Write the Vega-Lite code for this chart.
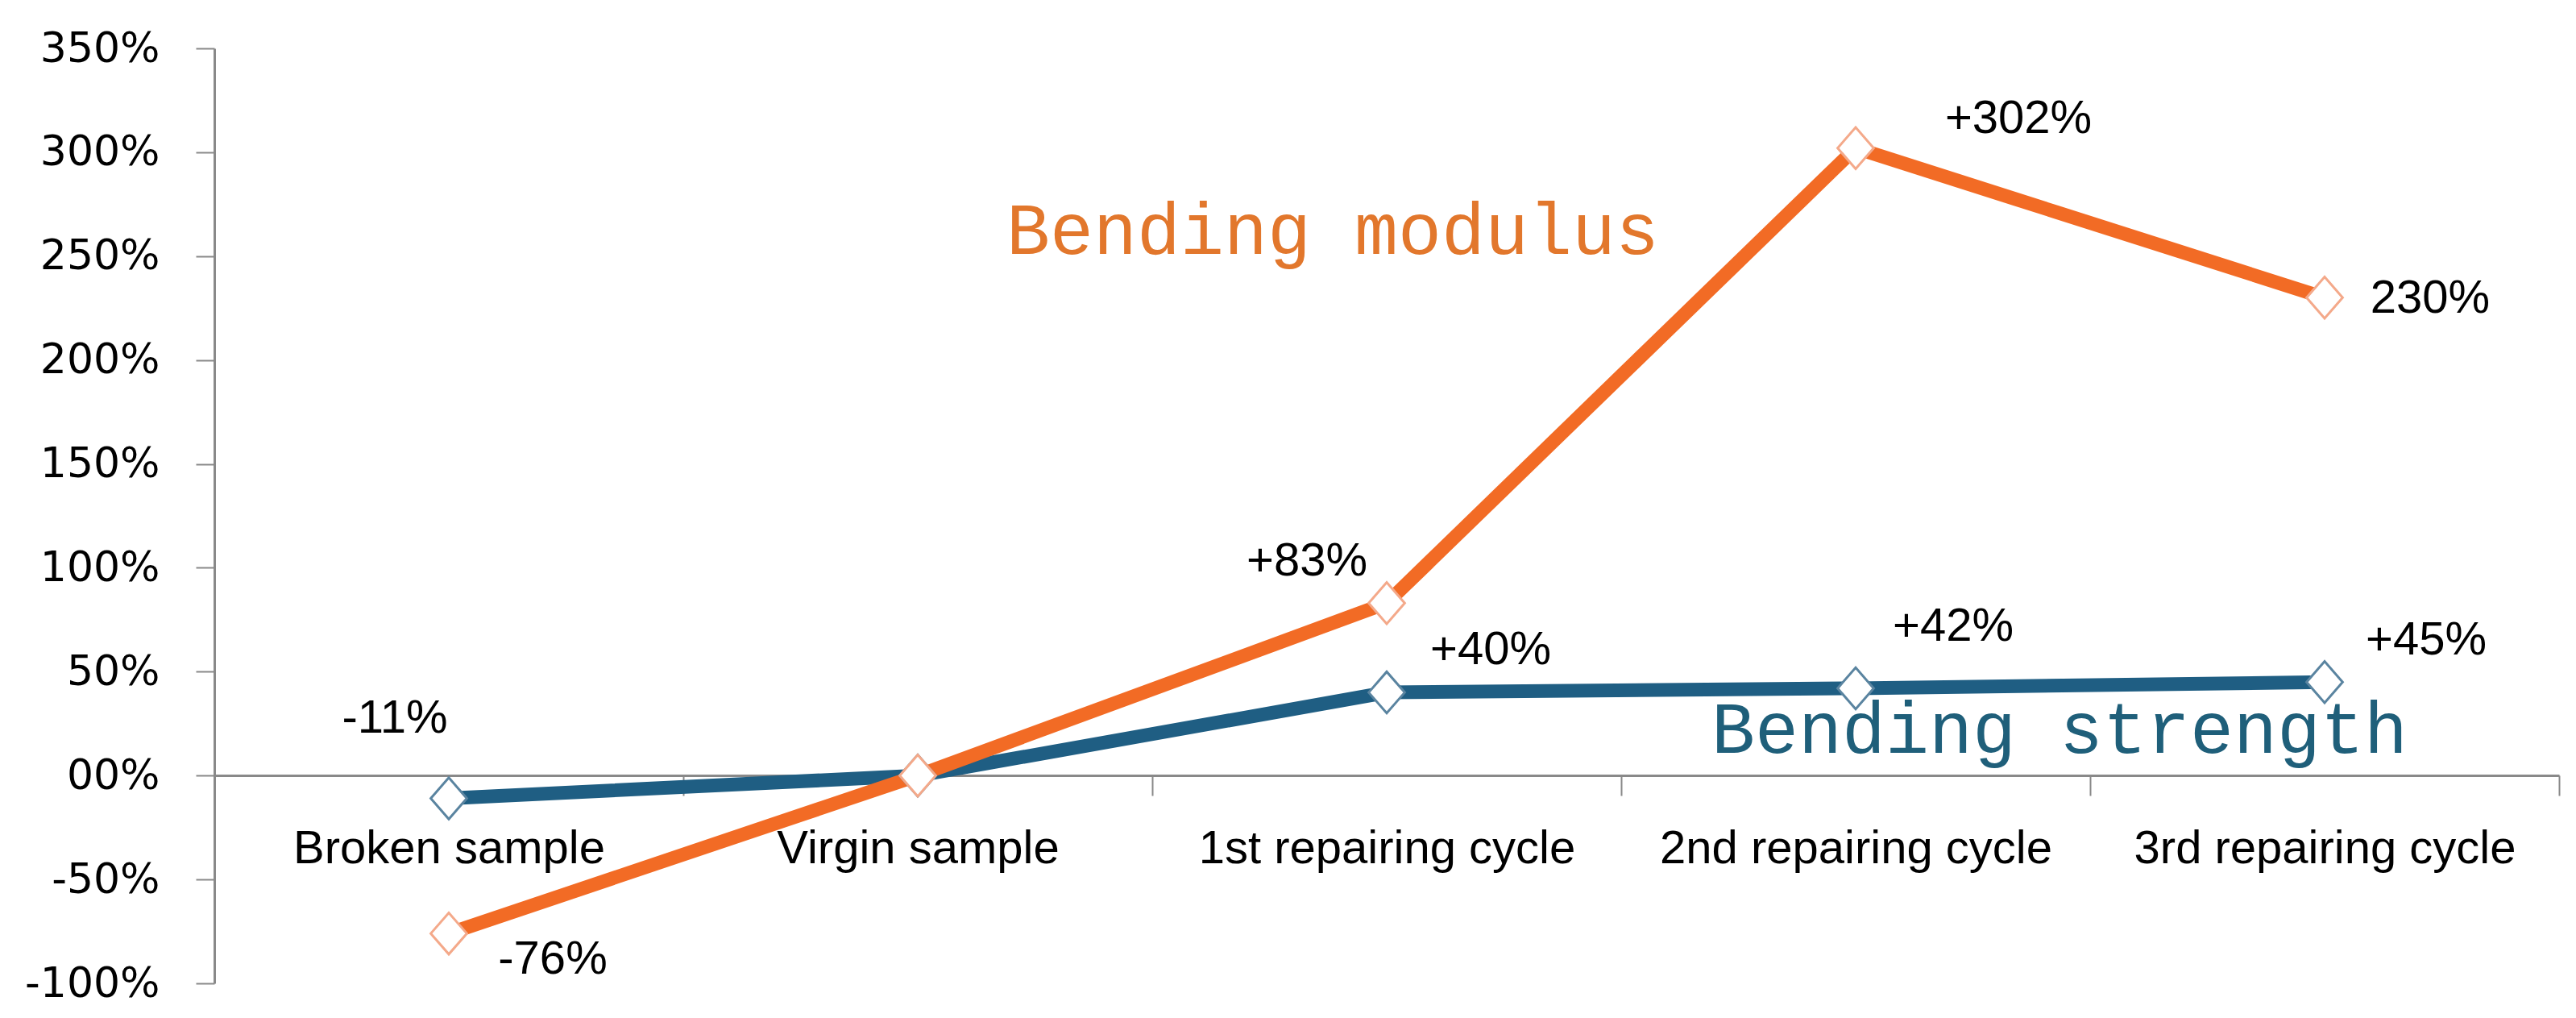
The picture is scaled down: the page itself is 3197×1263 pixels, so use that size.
{
  "$schema": "https://vega.github.io/schema/vega-lite/v6.json",
  "width": 2910,
  "height": 1160,
  "autosize": {"type": "none"},
  "padding": {"left": 266, "top": 60, "right": 21, "bottom": 43},
  "background": "white",
  "config": {"view": {"stroke": null}},
  "datasets": {
    "main": [
      {"cat": "Broken sample", "series": "strength", "value": -11, "label": "-11%"},
      {"cat": "Virgin sample", "series": "strength", "value": 0, "label": ""},
      {"cat": "1st repairing cycle", "series": "strength", "value": 40, "label": "+40%"},
      {"cat": "2nd repairing cycle", "series": "strength", "value": 42, "label": "+42%"},
      {"cat": "3rd repairing cycle", "series": "strength", "value": 45, "label": "+45%"},
      {"cat": "Broken sample", "series": "modulus", "value": -76, "label": "-76%"},
      {"cat": "Virgin sample", "series": "modulus", "value": 0, "label": ""},
      {"cat": "1st repairing cycle", "series": "modulus", "value": 83, "label": "+83%"},
      {"cat": "2nd repairing cycle", "series": "modulus", "value": 302, "label": "+302%"},
      {"cat": "3rd repairing cycle", "series": "modulus", "value": 230, "label": "230%"}
    ],
    "notes": [
      {"cat": "1st repairing cycle", "value": 251, "text": "Bending modulus", "series": "modulus"},
      {"cat": "2nd repairing cycle", "value": 11, "text": "Bending strength", "series": "strength"}
    ]
  },
  "encoding": {
    "x": {
      "field": "cat", "type": "nominal", "sort": null,
      "scale": {"type": "band", "paddingInner": 0, "paddingOuter": 0,
        "domain": ["Broken sample", "Virgin sample", "1st repairing cycle", "2nd repairing cycle", "3rd repairing cycle"]},
      "axis": {
        "title": null, "offset": -258, "labelAngle": 0, "tickBand": "extent", "labelLimit": 0,
        "domainColor": "#898989", "domainWidth": 3, "tickColor": "#898989", "tickWidth": 2, "tickSize": 25,
        "labelFont": "Liberation Sans", "labelFontSize": 58, "labelColor": "#000000", "labelPadding": 37,
        "zindex": 0
      }
    },
    "y": {
      "field": "value", "type": "quantitative",
      "scale": {"domain": [-100, 350], "nice": false, "zero": false},
      "axis": {
        "title": null, "values": [-100, -50, 0, 50, 100, 150, 200, 250, 300, 350],
        "labelExpr": "datum.value === 0 ? '00%' : datum.value + '%'",
        "grid": false, "domainColor": "#898989", "domainWidth": 3, "tickColor": "#898989", "tickWidth": 2, "tickSize": 23,
        "labelFont": "DejaVu Sans", "labelFontSize": 52, "labelColor": "#000000", "labelPadding": 45,
        "zindex": 0
      }
    }
  },
  "layer": [
    {"data": {"name": "main"}, "transform": [{"filter": "datum.series === 'strength'"}],
     "mark": {"type": "line", "color": "#1F5E83", "strokeWidth": 17}},
    {"data": {"name": "main"}, "transform": [{"filter": "datum.series === 'modulus'"}],
     "mark": {"type": "line", "color": "#F26B25", "strokeWidth": 17}},
    {"data": {"name": "main"}, "transform": [{"filter": "datum.series === 'strength'"}],
     "mark": {"type": "point", "shape": "M-1,0L0,-1.15L1,0L0,1.15Z", "size": 2000, "filled": true, "fill": "white", "stroke": "#5A84A0", "strokeWidth": 3, "opacity": 1}},
    {"data": {"name": "main"}, "transform": [{"filter": "datum.series === 'modulus'"}],
     "mark": {"type": "point", "shape": "M-1,0L0,-1.15L1,0L0,1.15Z", "size": 2000, "filled": true, "fill": "white", "stroke": "#F4A98A", "strokeWidth": 3, "opacity": 1}},
    {"data": {"name": "main"}, "transform": [{"filter": "datum.label === '-11%'"}],
     "mark": {"type": "text", "font": "Liberation Sans", "fontSize": 58, "color": "#000000", "baseline": "middle", "align": "center", "dx": -67, "dy": -99},
     "encoding": {"text": {"field": "label"}}},
    {"data": {"name": "main"}, "transform": [{"filter": "datum.label === '-76%'"}],
     "mark": {"type": "text", "font": "Liberation Sans", "fontSize": 58, "color": "#000000", "baseline": "middle", "align": "center", "dx": 129, "dy": 33},
     "encoding": {"text": {"field": "label"}}},
    {"data": {"name": "main"}, "transform": [{"filter": "datum.label === '+83%'"}],
     "mark": {"type": "text", "font": "Liberation Sans", "fontSize": 58, "color": "#000000", "baseline": "middle", "align": "center", "dx": -99, "dy": -51},
     "encoding": {"text": {"field": "label"}}},
    {"data": {"name": "main"}, "transform": [{"filter": "datum.label === '+40%'"}],
     "mark": {"type": "text", "font": "Liberation Sans", "fontSize": 58, "color": "#000000", "baseline": "middle", "align": "center", "dx": 129, "dy": -52},
     "encoding": {"text": {"field": "label"}}},
    {"data": {"name": "main"}, "transform": [{"filter": "datum.label === '+42%'"}],
     "mark": {"type": "text", "font": "Liberation Sans", "fontSize": 58, "color": "#000000", "baseline": "middle", "align": "center", "dx": 121, "dy": -76},
     "encoding": {"text": {"field": "label"}}},
    {"data": {"name": "main"}, "transform": [{"filter": "datum.label === '+45%'"}],
     "mark": {"type": "text", "font": "Liberation Sans", "fontSize": 58, "color": "#000000", "baseline": "middle", "align": "center", "dx": 126, "dy": -51},
     "encoding": {"text": {"field": "label"}}},
    {"data": {"name": "main"}, "transform": [{"filter": "datum.label === '+302%'"}],
     "mark": {"type": "text", "font": "Liberation Sans", "fontSize": 58, "color": "#000000", "baseline": "middle", "align": "center", "dx": 202, "dy": -36},
     "encoding": {"text": {"field": "label"}}},
    {"data": {"name": "main"}, "transform": [{"filter": "datum.label === '230%'"}],
     "mark": {"type": "text", "font": "Liberation Sans", "fontSize": 58, "color": "#000000", "baseline": "middle", "align": "center", "dx": 131, "dy": 2},
     "encoding": {"text": {"field": "label"}}},
    {"data": {"name": "notes"}, "transform": [{"filter": "datum.series === 'modulus'"}],
     "mark": {"type": "text", "font": "Liberation Mono", "fontSize": 90, "color": "#E2772C", "baseline": "alphabetic", "align": "center", "dx": -67},
     "encoding": {"text": {"field": "text"}}},
    {"data": {"name": "notes"}, "transform": [{"filter": "datum.series === 'strength'"}],
     "mark": {"type": "text", "font": "Liberation Mono", "fontSize": 90, "color": "#1F5F7A", "baseline": "alphabetic", "align": "center", "dx": 253},
     "encoding": {"text": {"field": "text"}}}
  ]
}
